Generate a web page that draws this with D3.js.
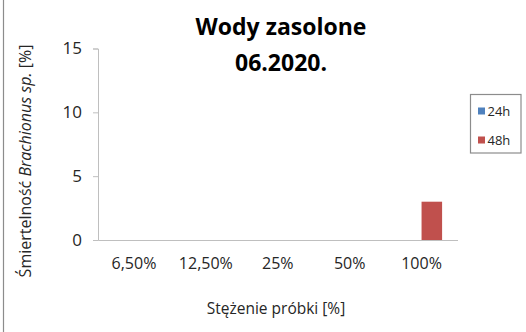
<!DOCTYPE html>
<html>
<head>
<meta charset="utf-8">
<script src="https://cdn.jsdelivr.net/npm/d3@7"></script>
<style>
  html, body { margin: 0; padding: 0; background: #fff; }
  svg { display: block; }
  text { font-family: "Open Sans", "Noto Sans", sans-serif; fill: #404040; }
</style>
</head>
<body>
<svg id="chart" width="526" height="332"></svg>
<script>
// Mortality of Brachionus sp. in saline water samples, June 2020
const categories = ["6,50%", "12,50%", "25%", "50%", "100%"];
const seriesNames = ["24h", "48h"];
const values24h = [0, 0, 0, 0, 0];
const values48h = [0, 0, 0, 0, 3];
const yTicks = [0, 5, 10, 15];
const colors = ["#4F81BD", "#C0504D"];

const svg = d3.select("#chart");
const W = 526, H = 332;
const plot = { left: 98, right: 457.5, top: 48.5, bottom: 240 };
const textColor = "#262626";

// outer frame edge on the left
svg.append("line")
  .attr("x1", 3.5).attr("x2", 3.5).attr("y1", 0).attr("y2", H)
  .attr("stroke", "#8c8c8c").attr("stroke-width", 1.2);

const x0 = d3.scaleBand().domain(categories).range([plot.left, plot.right]).paddingInner(0).paddingOuter(0);
// two bars per group, gap between groups 150% of a bar width
const groupW = x0.bandwidth() * 2 / 3.5;
const x1 = d3.scaleBand().domain(seriesNames).range([0, groupW]);
const y = d3.scaleLinear().domain([0, 15]).range([plot.bottom, plot.top]);

// y axis
const yAxis = d3.axisLeft(y).tickValues(yTicks).tickSize(5).tickPadding(11).tickFormat(d3.format("d"));
const gy = svg.append("g").attr("transform", `translate(${plot.left},0)`).call(yAxis);
gy.select(".domain").attr("stroke", "#bfbfbf");
gy.selectAll(".tick line").attr("stroke", "#bfbfbf");
gy.selectAll(".tick text").style("font-size", "17px").style("fill", textColor).style("font-family", "\"Open Sans\", sans-serif");

// x axis
const xAxis = d3.axisBottom(x0).tickSize(0).tickPadding(18);
const gx = svg.append("g").attr("transform", `translate(0,${plot.bottom})`).call(xAxis);
gx.select(".domain").attr("stroke", "#bfbfbf").attr("stroke-width", 1.2);
gx.selectAll(".tick text").style("font-size", "16px").style("fill", textColor).style("font-family", "\"Open Sans\", sans-serif");

// bars
const rows = categories.map((c, i) => ({ cat: c, vals: [values24h[i], values48h[i]] }));
const groups = svg.append("g").selectAll("g").data(rows).join("g")
  .attr("transform", d => `translate(${x0(d.cat) + (x0.bandwidth() - groupW) / 2},0)`);
groups.selectAll("rect").data(d => d.vals.map((v, k) => ({ v, s: seriesNames[k], k }))).join("rect")
  .attr("x", d => x1(d.s))
  .attr("width", x1.bandwidth())
  .attr("y", d => y(d.v))
  .attr("height", d => y(0) - y(d.v))
  .attr("fill", d => colors[d.k]);

// title
const title = svg.append("text").attr("text-anchor", "middle")
  .style("font-size", "23px").style("font-weight", "bold").style("fill", "#000");
title.append("tspan").attr("x", 281).attr("y", 35).text("Wody zasolone");
title.append("tspan").attr("x", 281).attr("y", 71).text("06.2020.");

// x axis title
svg.append("text").attr("x", 276).attr("y", 314).attr("text-anchor", "middle")
  .style("font-size", "15.5px").style("fill", textColor).text("Stężenie próbki [%]");

// y axis title
const yt = svg.append("text").attr("transform", "translate(31,161) rotate(-90)")
  .attr("text-anchor", "middle").style("font-size", "16px").style("fill", textColor);
yt.append("tspan").text("Śmiertelność ");
yt.append("tspan").style("font-style", "italic").text("Brachionus sp.");
yt.append("tspan").text(" [%]");

// legend
const lg = svg.append("g");
lg.append("rect").attr("x", 470.5).attr("y", 94.5).attr("width", 50.5).attr("height", 58.5)
  .attr("fill", "#fff").attr("stroke", "#8c8c8c").attr("stroke-width", 1.2);
seriesNames.forEach((s, i) => {
  const yy = 111 + i * 29;
  lg.append("rect").attr("x", 478).attr("y", yy - 3.5).attr("width", 7).attr("height", 7).attr("fill", colors[i]);
  lg.append("text").attr("x", 487.5).attr("y", yy + 5).style("font-size", "13px").style("fill", textColor).text(s);
});
</script>
</body>
</html>
